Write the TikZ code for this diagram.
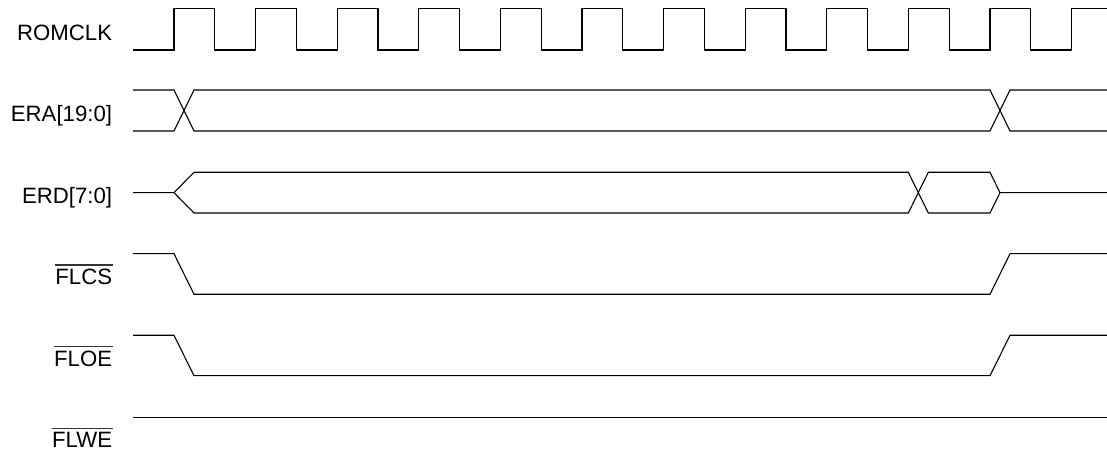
\documentclass[tikz,border=0pt]{standalone}
\usepackage{fontspec}
\setmainfont{Liberation Sans}
\begin{document}
\begin{tikzpicture}[x=0.5pt,y=-0.5pt,
  sig/.style={line width=0.55pt,line join=miter},
  lbl/.style={anchor=base east,inner sep=0pt,font=\fontsize{11.1}{13}\selectfont},
  ovl/.style={line width=0.7pt,black!80}]
\useasboundingbox (0,0) rectangle (1107,453);
% labels
\node[lbl] (lclk) at (112.5,40.5) {ROMCLK};
\node[lbl] (lera) at (112.5,121.9) {ERA[19:0]};
\node[lbl] (lerd) at (112.5,203.3) {ERD[7:0]};
\node[lbl] (lcs)  at (112.5,284.2) {FLCS};
\node[lbl] (loe)  at (112.5,366.1) {FLOE};
\node[lbl] (lwe)  at (112.5,447.5) {FLWE};
\foreach \n in {lcs,loe,lwe}{
  \draw[ovl] ([yshift=1.7pt]\n.north west) -- ([yshift=1.7pt]\n.north east);
}
% ROMCLK
\draw[sig] (133,50)
  foreach \k in {0,...,10} {
    -- ({174+81.6*\k},50) -- ({174+81.6*\k},8.7)
    -- ({214.8+81.6*\k},8.7) -- ({214.8+81.6*\k},50)
  }
  -- (1071.6,50) -- (1071.6,8.7) -- (1107,8.7);
% ERA[19:0]
\draw[sig] (133,90) -- (174,90) -- (194,131) -- (990,131) -- (1010,90) -- (1107,90);
\draw[sig] (133,131) -- (174,131) -- (194,90) -- (990,90) -- (1010,131) -- (1107,131);
% ERD[7:0]
\draw[sig] (133,192.7) -- (174,192.7) -- (194,172.3) -- (908.3,172.3) -- (928.3,213)
  -- (990,213) -- (1000,192.7) -- (1107,192.7);
\draw[sig] (174,192.7) -- (194,213) -- (908.3,213) -- (928.3,172.3) -- (990,172.3) -- (1000,192.7);
% FLCS
\draw[sig] (133,253.7) -- (174,253.7) -- (194,294.3) -- (990,294.3) -- (1010,253.7) -- (1107,253.7);
% FLOE
\draw[sig] (133,335.3) -- (174,335.3) -- (194,375.7) -- (990,375.7) -- (1010,335.3) -- (1107,335.3);
% FLWE
\draw[sig] (133,417.2) -- (1107,417.2);
\end{tikzpicture}
\end{document}
